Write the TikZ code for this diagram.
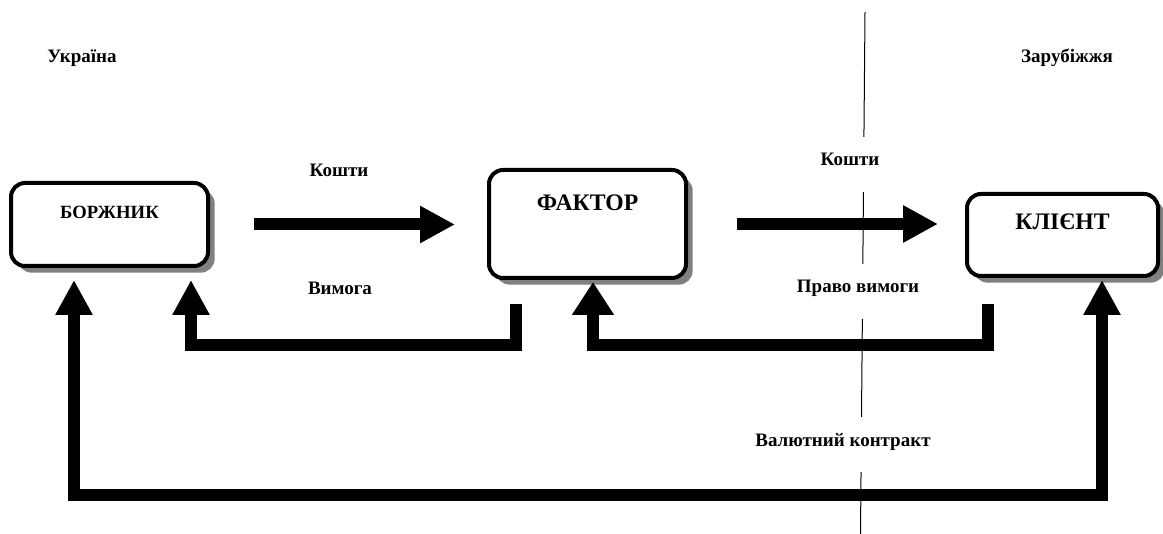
\documentclass[tikz,border=0pt]{standalone}
\usepackage{fontspec}
\setmainfont{Liberation Serif}
\usetikzlibrary{arrows.meta,calc,shadows}
\begin{document}
\begin{tikzpicture}[x=0.75pt,y=-0.75pt,
  boxst/.style={draw, line width=3pt, fill=white, rounded corners=10.5pt, inner sep=0pt,
    minimum width=147.75pt,
    drop shadow={shadow xshift=5pt, shadow yshift=-5pt, fill=black!50, opacity=1}},
  smallfont/.style={font=\fontsize{14.25pt}{17pt}\selectfont\bfseries},
  boxfont/.style={font=\fontsize{14pt}{17pt}\selectfont\bfseries},
  bigfont/.style={font=\fontsize{17.75pt}{21pt}\selectfont\bfseries},
  lbl/.style={smallfont, fill=white, inner xsep=3pt, inner ysep=12.75pt,
    text height=9pt, text depth=6.75pt, anchor=base},
  fat/.style={line width=9pt, line join=miter, -{Triangle[width=26.25pt,length=26.25pt]}},
  fatboth/.style={line width=9pt, line join=miter,
    {Triangle[width=26.25pt,length=26.25pt]}-{Triangle[width=26.25pt,length=26.25pt]}},
  fatwide/.style={line width=9pt, line join=miter, -{Triangle[width=30pt,length=24.75pt]}}
]
\useasboundingbox (0,0) rectangle (1163,534);

% border between Ukraine and abroad
\coordinate (dtop) at (865,12);
\coordinate (dbot) at (860.5,534);
\draw[line width=0.75pt] (dtop) -- (dbot);

% region titles
\node[lbl, fill=none] (ua) at (82,63) {Україна};
\node[lbl, fill=none] (abroad) at (1067,63) {Зарубіжжя};

% labels
\node[lbl] (m1) at (339,177) {Кошти};
\node[lbl] (m2) at (850,166) {Кошти};
\node[lbl] (r1) at (340,295) {Вимога};
\node[lbl] (r2) at (858,293) {Право вимоги};
\node[lbl] (vc) at (843,446) {Валютний контракт};

% boxes
\node[boxst, boxfont, minimum height=62.25pt, text height=9pt, text depth=17.25pt]
  (b) at (109.5,224.5) {БОРЖНИК};
\node[boxst, bigfont, minimum height=81pt, text height=11.25pt, text depth=31.5pt]
  (f) at (587.5,224) {ФАКТОР};
\node[boxst, bigfont, minimum width=143.25pt, minimum height=61.5pt, text height=11.25pt, text depth=18.75pt]
  (k) at (1062.5,235) {КЛІЄНТ};

% money flows
\draw[fat, shorten <=33pt, shorten >=24pt] (b.east) -- (b.east -| f.west);
\draw[fat, shorten <=36.75pt, shorten >=20.25pt] (f.east) -- (f.east -| k.west);

% claims
\draw[fat] ($(f.south)+(-71.5,24)$) |- ($(b.south)+(81.5,77)$) -- ($(b.south)+(81.5,12)$);
\draw[fatwide] ($(k.south)+(-74.5,26)$) |- ($(f.south)+(5.5,65)$) -- ($(f.south)+(5.5,2)$);

% currency contract
\draw[fatboth] ($(b.south)+(-35.5,12)$) |- ($(k.south)+(39.5,216.5)$) -- ($(k.south)+(39.5,2)$);
\end{tikzpicture}
\end{document}
